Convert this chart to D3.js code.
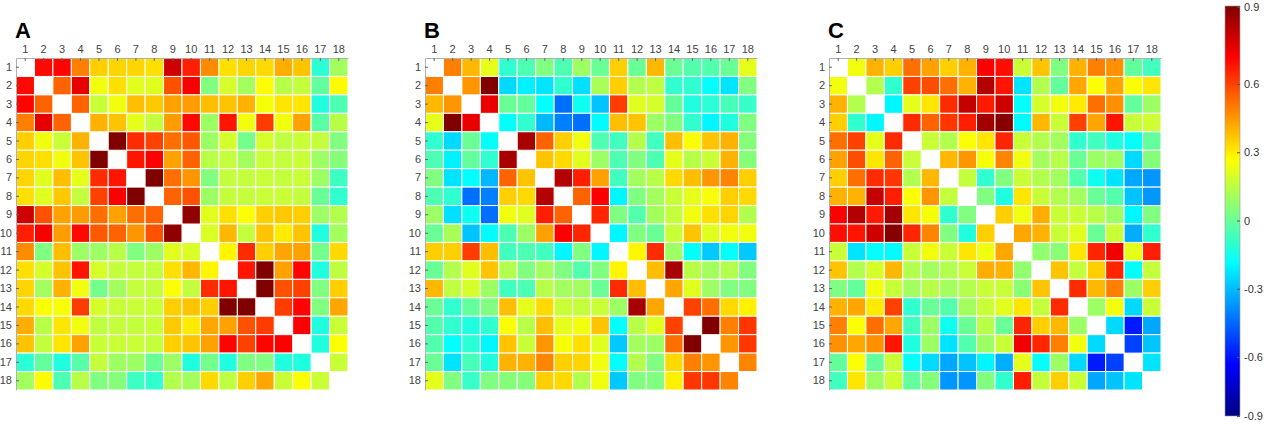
<!DOCTYPE html>
<html>
<head>
<meta charset="utf-8">
<script src="https://cdn.jsdelivr.net/npm/d3@7"></script>
<style>
    body { margin: 0; background: #fff; }
    svg { display: block; font-family: "Liberation Sans", Arial, sans-serif; }
</style>
</head>
<body>
<svg id="chart" width="1277" height="428"></svg>
<script>
// Variable labels (rows & columns of every matrix)
const varLabels = ["1","2","3","4","5","6","7","8","9","10","11","12","13","14","15","16","17","18"];

// Upper triangles of the symmetric correlation matrices (row i holds columns i+1..18)
const upperA = [
    [0.66,0.67,0.45,0.31,0.30,0.30,0.28,0.76,0.62,0.43,0.28,0.30,0.29,0.37,0.33,-0.15,0.06],
    [0.50,0.72,0.20,0.28,0.17,0.17,0.53,0.69,0.00,0.15,0.06,0.22,0.10,0.12,-0.05,0.23],
    [0.50,0.13,0.20,0.34,0.32,0.39,0.40,0.34,0.33,0.36,0.21,0.27,0.27,-0.17,-0.09],
    [0.36,0.33,0.18,0.12,0.40,0.66,0.05,0.64,0.20,0.57,0.20,0.39,-0.07,0.10],
    [0.90,0.60,0.56,0.48,0.52,0.05,0.15,-0.02,0.15,0.11,0.13,0.12,0.00],
    [0.64,0.68,0.39,0.50,0.10,0.12,0.06,0.13,0.12,0.13,0.05,0.01],
    [0.90,0.48,0.41,0.00,0.12,0.12,0.13,0.12,0.13,0.05,-0.12],
    [0.50,0.53,0.05,0.12,0.12,0.13,0.13,0.12,-0.04,-0.14],
    [0.87,0.17,0.28,0.22,0.31,0.32,0.31,0.05,0.09],
    [0.16,0.35,0.12,0.33,0.26,0.33,-0.17,0.06],
    [0.24,0.60,0.31,0.38,0.39,-0.02,0.29],
    [0.64,0.90,0.39,0.67,-0.17,0.11],
    [0.90,0.53,0.56,0.00,0.31],
    [0.57,0.67,0.00,0.38],
    [0.68,-0.17,0.13],
    [-0.17,0.22],
    [0.13]
];

const upperB = [
    [0.45,0.35,0.18,-0.14,-0.09,0.00,-0.09,0.05,-0.04,0.31,-0.04,0.35,-0.04,-0.08,-0.08,-0.04,0.18],
    [0.41,0.90,-0.29,-0.25,-0.27,-0.14,-0.28,0.07,0.31,0.09,0.11,-0.14,-0.14,-0.22,-0.27,0.00],
    [0.71,-0.04,-0.05,-0.22,-0.48,-0.20,-0.33,0.57,0.17,0.15,-0.05,-0.17,-0.15,-0.10,-0.13],
    [-0.22,-0.14,-0.35,-0.45,-0.48,-0.23,0.34,0.33,0.05,0.00,-0.14,-0.24,-0.17,0.00],
    [0.83,0.50,0.31,0.20,-0.09,-0.11,0.09,-0.11,0.34,0.22,0.33,0.36,0.01],
    [0.33,0.29,0.17,0.05,-0.09,0.00,-0.09,0.18,0.10,0.13,0.36,0.01],
    [0.81,0.62,0.39,-0.11,0.06,0.10,0.29,0.34,0.41,0.44,0.31],
    [0.50,0.68,-0.24,0.00,0.06,0.13,0.18,0.21,0.31,0.29],
    [0.61,0.00,-0.08,0.06,0.12,0.20,0.28,0.30,0.09],
    [-0.24,0.00,-0.04,0.13,0.33,0.17,0.20,0.20],
    [0.24,0.60,0.05,-0.22,-0.32,-0.22,-0.32],
    [0.34,0.83,0.10,0.06,0.09,0.00],
    [0.38,0.17,0.05,0.00,0.00],
    [0.56,0.48,0.29,0.25],
    [0.90,0.45,0.58],
    [0.41,0.58],
    [0.44]
];

const upperC = [
    [0.20,0.36,0.31,0.48,0.39,0.31,0.36,0.68,0.65,0.13,0.33,0.00,0.36,0.45,0.42,-0.05,-0.11],
    [0.09,-0.14,0.56,0.54,0.48,0.36,0.81,0.64,-0.27,0.09,-0.05,0.38,0.22,0.38,0.22,0.27],
    [-0.24,0.18,0.27,0.60,0.78,0.63,0.76,-0.22,0.15,0.20,0.26,0.48,0.42,-0.05,0.05],
    [0.60,0.50,0.58,0.62,0.84,0.89,-0.23,0.35,0.13,0.56,0.38,0.64,0.13,0.14],
    [0.13,0.09,0.22,0.27,0.61,0.13,0.09,0.06,-0.14,-0.11,-0.17,-0.22,-0.05],
    [0.35,0.41,0.21,0.44,0.20,0.06,0.10,-0.04,0.05,0.05,-0.29,0.01],
    [0.12,-0.14,0.00,0.13,0.09,0.06,-0.08,-0.20,-0.27,-0.38,-0.41],
    [0.00,-0.17,0.27,0.13,0.09,0.06,-0.04,-0.08,-0.33,-0.41],
    [0.31,0.20,0.37,0.13,0.13,0.10,0.05,-0.24,0.00],
    [0.38,0.36,0.13,0.17,-0.04,0.13,-0.37,-0.14],
    [0.03,0.02,0.27,0.61,0.70,0.18,0.62],
    [0.33,0.12,0.31,0.61,-0.22,0.12],
    [0.60,0.35,0.45,0.05,0.31],
    [0.05,0.20,-0.29,0.13],
    [-0.29,-0.63,-0.38],
    [-0.56,-0.33],
    [-0.27]
];

const panelNames = ["A", "B", "C"];
const panelUppers = [upperA, upperB, upperC];
const cbTicks = [-0.9, -0.6, -0.3, 0, 0.3, 0.6, 0.9];

// Layout
const panelLeft = [16, 425, 829];
const panelTop = 58;
const panelSize = 332;

const svg = d3.select("#chart");

// MATLAB style jet colormap over [-0.9, 0.9]
const jet = d3.scaleLinear()
    .domain([0, 1/8, 3/8, 5/8, 7/8, 1])
    .range(["#000080", "#0000ff", "#00ffff", "#ffff00", "#ff0000", "#800000"])
    .interpolate(d3.interpolateRgb);
const tScale = d3.scaleLinear().domain([-0.9, 0.9]).range([0, 1]).clamp(true);
const colour = v => jet(tScale(v));

// Build full symmetric matrix cells from an upper triangle (diagonal left blank)
function cellsFrom(upper) {
    const cells = [];
    upper.forEach((row, i) => {
        row.forEach((v, k) => {
            const j = i + k + 1;
            cells.push({ r: varLabels[i], c: varLabels[j], v: v });
            cells.push({ r: varLabels[j], c: varLabels[i], v: v });
        });
    });
    return cells;
}

panelNames.forEach((name, p) => {
    const left = panelLeft[p];
    const x = d3.scaleBand().domain(varLabels).range([left, left + panelSize]);
    const y = d3.scaleBand().domain(varLabels).range([panelTop, panelTop + panelSize]);
    const g = svg.append("g");

    g.append("g").selectAll("rect")
        .data(cellsFrom(panelUppers[p]))
        .enter()
        .append("rect")
        .attr("x", d => x(d.c))
        .attr("y", d => y(d.r))
        .attr("width", x.bandwidth())
        .attr("height", y.bandwidth())
        .attr("fill", d => colour(d.v))
        .attr("stroke", "#fff")
        .attr("stroke-width", 1);

    // Axes on top & left, ticks pointing inwards
    const topAxis = g.append("g")
        .attr("transform", `translate(0,${panelTop})`)
        .call(d3.axisTop(x).tickSizeInner(-3).tickSizeOuter(0).tickPadding(5));
    const leftAxis = g.append("g")
        .attr("transform", `translate(${left},0)`)
        .call(d3.axisLeft(y).tickSizeInner(-3).tickSizeOuter(0).tickPadding(4));
    [topAxis, leftAxis].forEach(a => {
        a.select(".domain").attr("stroke", "#b0b0b0").attr("stroke-width", 1);
        a.selectAll(".tick line").attr("stroke", "#666");
        a.selectAll("text").attr("font-size", "11px").attr("fill", "#444");
    });

    // Panel letter
    g.append("text")
        .attr("x", left - 1)
        .attr("y", 38)
        .attr("font-size", "22px")
        .attr("font-weight", "bold")
        .attr("fill", "#000")
        .text(name);
});

// Colorbar
const cbX = 1225, cbW = 15, cbTop = 6, cbBottom = 416;
const grad = svg.append("defs").append("linearGradient")
    .attr("id", "jetGrad")
    .attr("x1", 0).attr("y1", 1).attr("x2", 0).attr("y2", 0);
grad.selectAll("stop")
    .data(d3.range(0, 1.0001, 1/16))
    .enter()
    .append("stop")
    .attr("offset", d => d)
    .attr("stop-color", d => jet(d));

svg.append("rect")
    .attr("x", cbX).attr("y", cbTop)
    .attr("width", cbW).attr("height", cbBottom - cbTop)
    .attr("fill", "url(#jetGrad)")
    .attr("stroke", "#999")
    .attr("stroke-width", 0.6);

// tick labels sit where the reference puts them (end labels at the bar ends)
const cbScale = d3.scaleLinear()
    .domain([-0.9, -0.6, 0.6, 0.9])
    .range([cbBottom, 357, 84, cbTop + 1]);
const cbAxis = svg.append("g")
    .attr("transform", `translate(${cbX + cbW},0)`)
    .call(d3.axisRight(cbScale).tickValues(cbTicks).tickFormat(d => String(d))
        .tickSizeInner(-3).tickSizeOuter(0).tickPadding(4));
cbAxis.select(".domain").remove();
cbAxis.selectAll(".tick line").attr("stroke", "#555");
cbAxis.selectAll("text").attr("font-size", "11px").attr("fill", "#333");
</script>
</body>
</html>
